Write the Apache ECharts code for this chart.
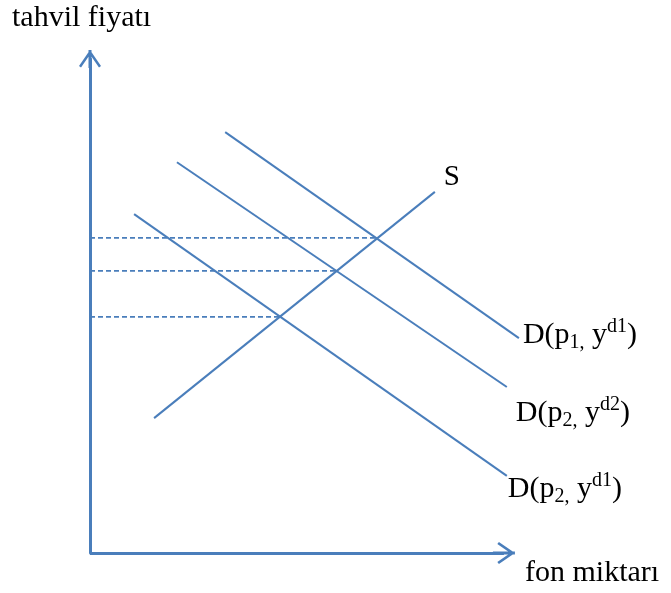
<!DOCTYPE html>
<html>
<head>
<meta charset="utf-8">
<script src="https://cdn.jsdelivr.net/npm/echarts@6/dist/echarts.min.js"></script>
<style>
html,body{margin:0;padding:0;background:#fff;}
#c{width:671px;height:593px;}
</style>
</head>
<body>
<div id="c"></div>
<script>
// Data (arbitrary units: x = fon miktarı, y = tahvil fiyatı; axes drawn 0..100)
const supplyS   = [[15.4, 27.3], [82.9, 73.1]];
const demandD1  = [[32.5, 85.2], [103.1, 43.5]];   // D(p1, yd1)
const demandD2  = [[20.9, 79.1], [100.2, 33.6]];   // D(p2, yd2)
const demandD3  = [[10.6, 68.6], [100.2, 15.6]];   // D(p2, yd1)
const guideLevels = [63.8, 57.1, 47.8];            // dashed price levels
const guideEnds   = [69.0, 59.4, 45.9];            // where they meet S
const axisExtent = 99.5;                           // visible length of the x axis
const axisTitles = ['fon miktarı', 'tahvil fiyatı'];

const BLUE = '#4a7ebb';
const chevron = 'path://M11 0 L22 16 L20 17.6 L11 4.6 L2 17.6 L0 16 Z M9.5 0 L12.5 0 L12.5 18 L9.5 18 Z';
const chevronSq = 'path://M11 0 L22 16 L20 17.6 L11 4.6 L2 17.6 L0 16 Z M9.5 0 L12.5 0 L12.5 22 L9.5 22 Z';

const rich = {
  m:   {fontFamily: 'Liberation Serif', fontSize: 30, lineHeight: 36, color: '#000'},
  sub: {fontFamily: 'Liberation Serif', fontSize: 20, lineHeight: 26, verticalAlign: 'bottom', color: '#000'},
  sup: {fontFamily: 'Liberation Serif', fontSize: 20, lineHeight: 20, verticalAlign: 'top', color: '#000'},
  s:   {fontFamily: 'Liberation Serif', fontSize: 29, color: '#000'}
};

function lineSeries(name, data, label, offset) {
  return {
    name: name, type: 'line', data: data, showSymbol: false, symbol: 'none',
    clip: false, silent: true, animation: false,
    lineStyle: {color: BLUE, width: 2},
    endLabel: {show: true, distance: 0, offset: offset, formatter: label, rich: rich}
  };
}

const series = [
  lineSeries('S', supplyS, '{s|S}', [9, -14]),
  lineSeries('D1', demandD1, '{m|D(p}{sub|1,}{m| y}{sup|d1}{m|)}', [4, -3]),
  lineSeries('D2', demandD2, '{m|D(p}{sub|2,}{m| y}{sup|d2}{m|)}', [9, 26]),
  lineSeries('D3', demandD3, '{m|D(p}{sub|2,}{m| y}{sup|d1}{m|)}', [1, 13])
];

guideLevels.forEach(function (lv, i) {
  series.push({
    type: 'line', data: [[0, lv], [guideEnds[i], lv]], showSymbol: false, symbol: 'none',
    silent: true, animation: false,
    lineStyle: {color: BLUE, width: 1.8, type: [5, 3]}
  });
});

// x axis line with open arrow, drawn as a markLine in data coordinates
series.push({
  type: 'line', data: [], silent: true, animation: false,
  markLine: {
    silent: true, animation: false,
    symbol: ['none', chevronSq], symbolSize: 22,
    label: {show: false},
    lineStyle: {color: BLUE, width: 3, type: 'solid'},
    emphasis: {disabled: true},
    data: [[{coord: [0, 0]}, {coord: [axisExtent, 0]}]]
  }
});

const chart = echarts.init(document.getElementById('c'), null, {renderer: 'canvas'});
chart.setOption({
  animation: false,
  backgroundColor: '#fff',
  grid: {left: 90, right: 123.4, top: 59, bottom: 40, containLabel: false},
  xAxis: {
    type: 'value', min: 0, max: 110,
    axisLine: {show: false}, axisTick: {show: false}, axisLabel: {show: false}, splitLine: {show: false}
  },
  yAxis: {
    type: 'value', min: 0, max: 100,
    axisLine: {show: true, onZero: false, symbol: ['none', chevron], symbolSize: [22, 18],
               lineStyle: {color: BLUE, width: 3}},
    axisTick: {show: false}, axisLabel: {show: false}, splitLine: {show: false}
  },
  series: series,
  graphic: [
    {type: 'text', left: 525, top: 558, silent: true,
     style: {text: axisTitles[0], fontFamily: 'Liberation Serif', fontSize: 30, fill: '#000'}},
    {type: 'text', left: 12, top: 3, silent: true,
     style: {text: axisTitles[1], fontFamily: 'Liberation Serif', fontSize: 30, fill: '#000'}}
  ]
});
</script>
</body>
</html>
